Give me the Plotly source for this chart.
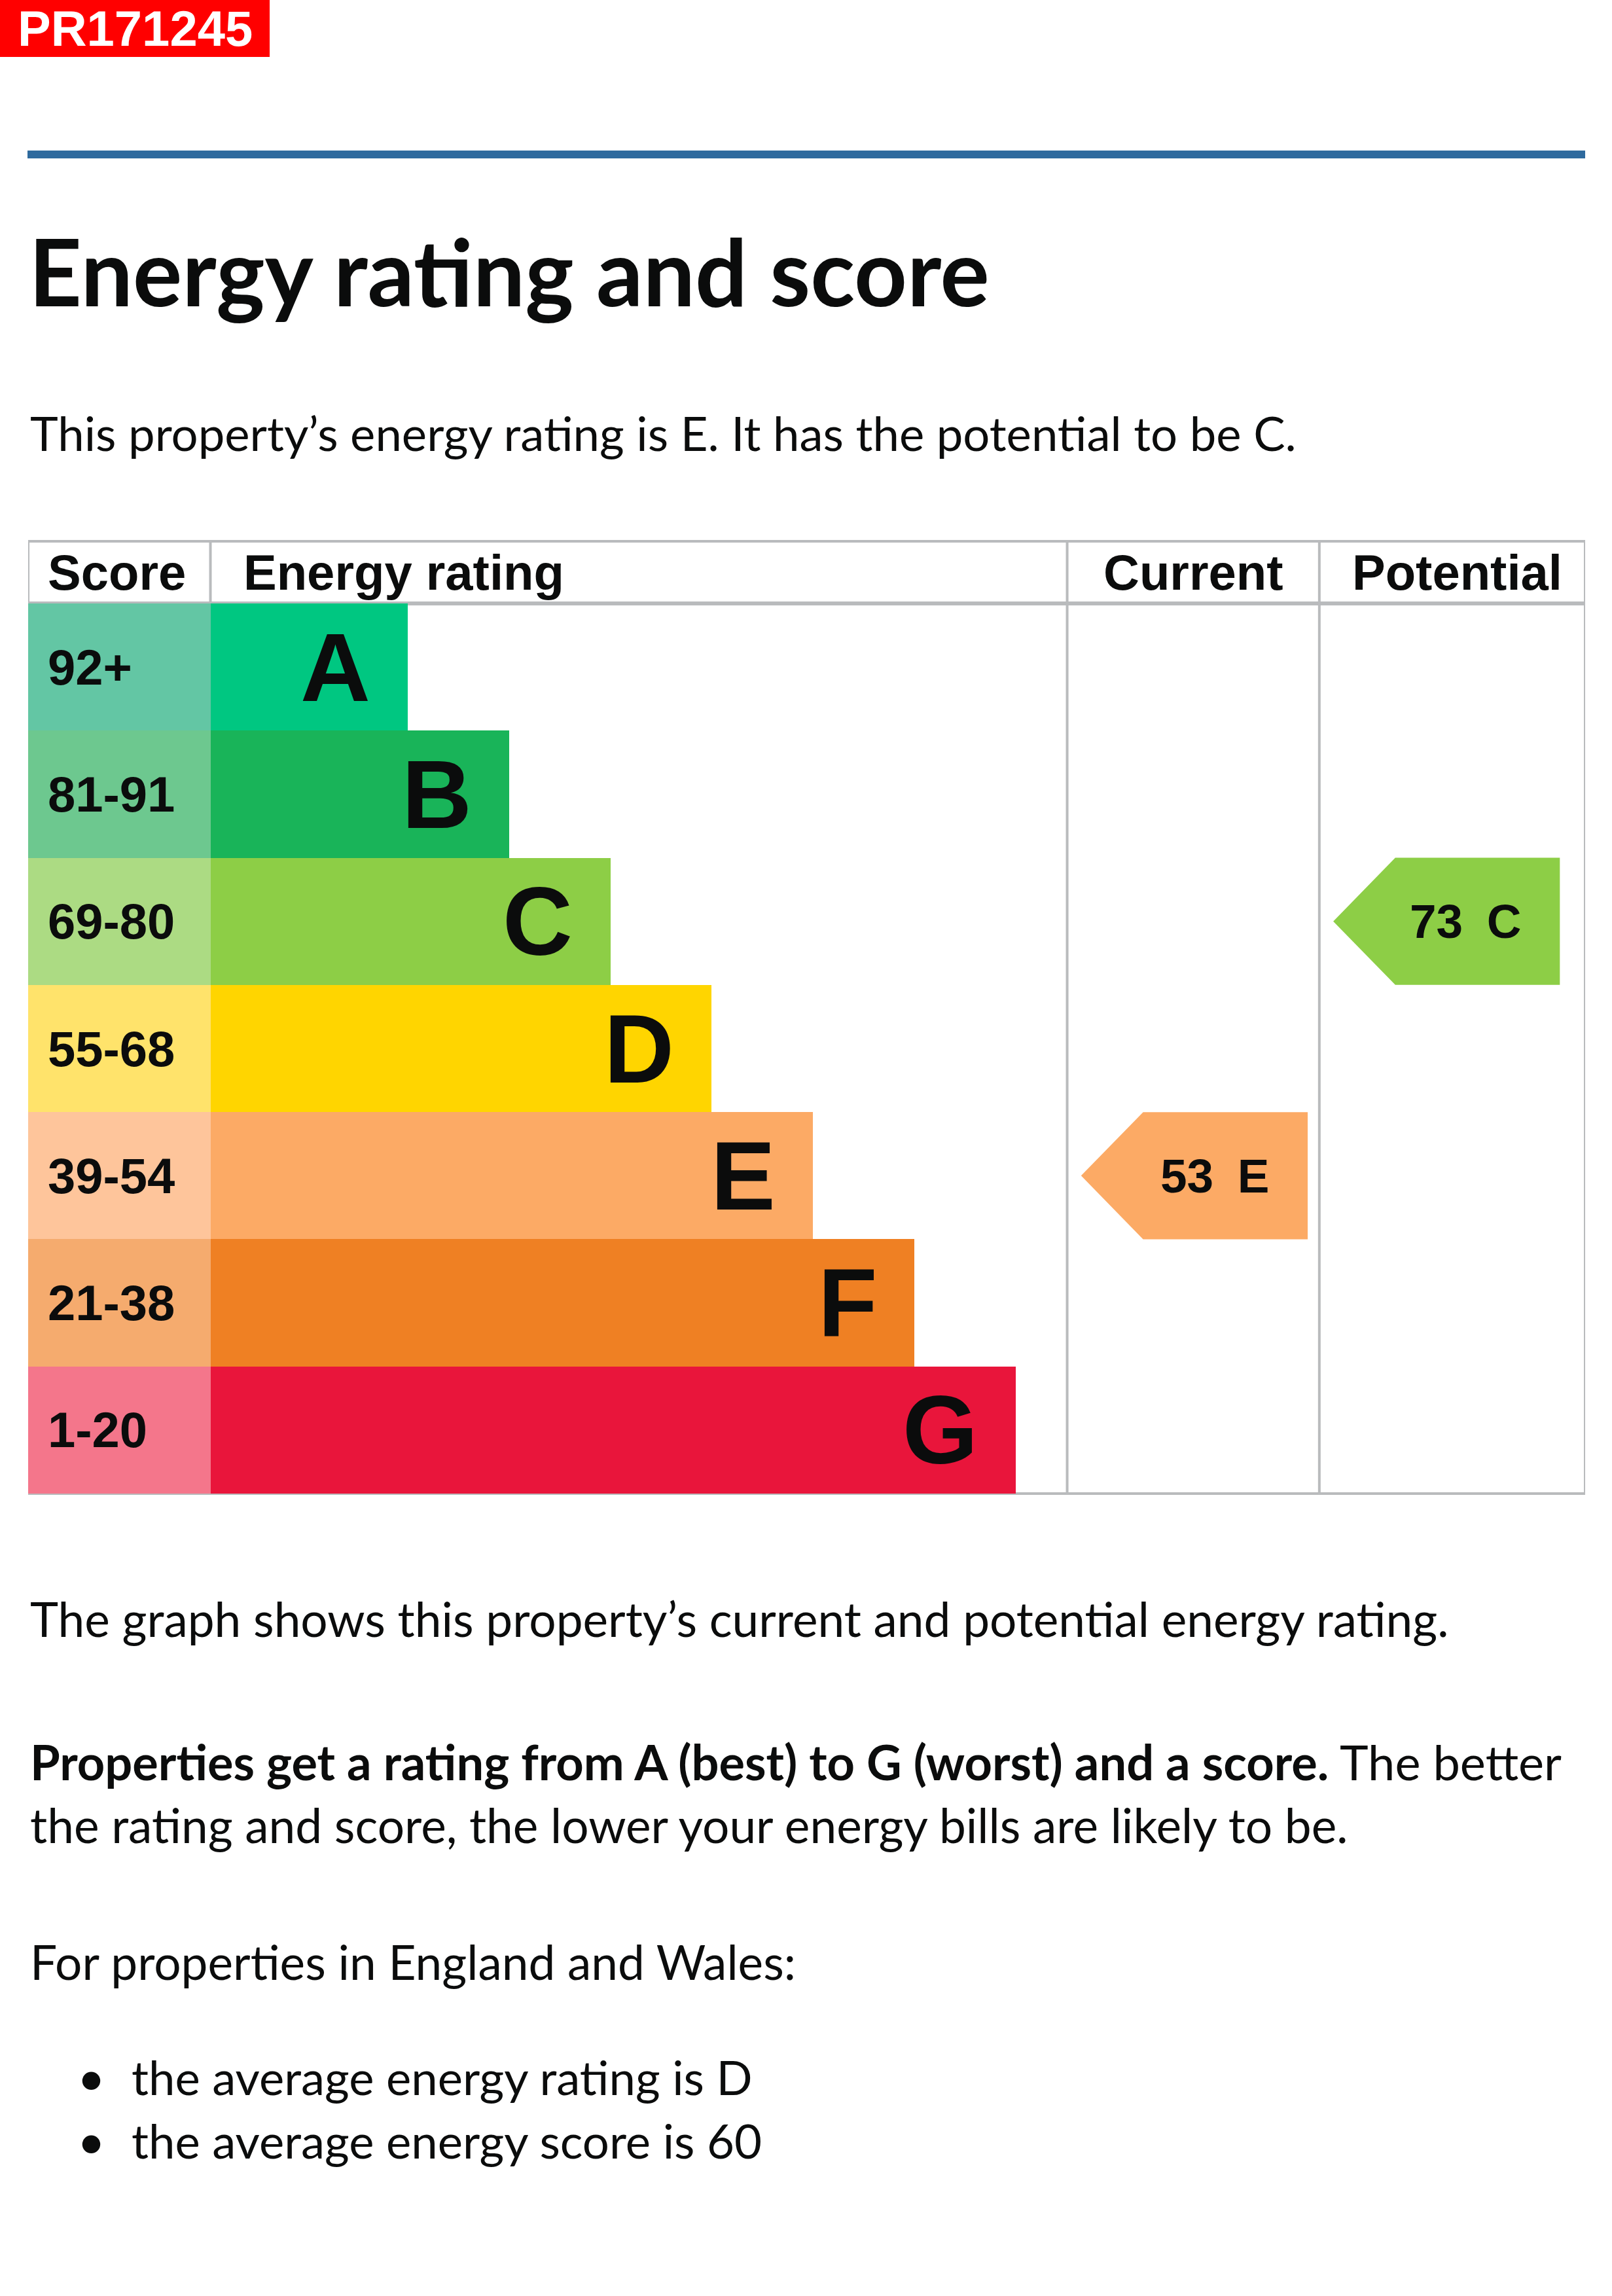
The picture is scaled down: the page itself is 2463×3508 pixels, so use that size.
import plotly.graph_objects as go

W, H = 2463, 3508

# ---- data ----
bands = ["A", "B", "C", "D", "E", "F", "G"]
score_ranges = ["92+", "81-91", "69-80", "55-68", "39-54", "21-38", "1-20"]
bar_widths = [78, 118, 158, 198, 238, 278, 318]   # length of each rating bar (graph units)
current_score, current_band = 53, "E"
potential_score, potential_band = 73, "C"
average_band, average_score = "D", 60
ref_code = "PR171245"

# ---- styles ----
band_colours = ["#00c781", "#19b459", "#8dce46", "#ffd500", "#fcaa65", "#ef8023", "#e9153b"]
score_colours = ["#63c6a4", "#6dc88f", "#acdb83", "#ffe36b", "#fec59b", "#f5ab6e", "#f4768b"]
TEXT = "#0b0c0c"
GRID = "#b9bbbd"
BODY_FONT = "Lato"
TABLE_FONT = "Liberation Sans"

# graph geometry (graph units, the svg of the EPC graph is 615 wide)
SCORE_COL = 72
CUR_COL = 410.4
POT_COL = 510
GRAPH_W = 615
# pixel positions of the table on the page
TBL_L, TBL_R = 43, 2422
TBL_TOP, HEAD_BOT, TBL_BOT = 827, 922, 2282


def py(p):
    return 1 - p / H


def pxx(p):
    return p / W


idx = list(range(len(bands)))
fig = go.Figure()

fig.add_trace(go.Bar(
    y=idx, x=[SCORE_COL] * len(bands), base=0, orientation="h", width=1,
    marker=dict(color=score_colours, line=dict(width=0)), hoverinfo="skip",
))
fig.add_trace(go.Bar(
    y=idx, x=bar_widths, base=SCORE_COL, orientation="h", width=1,
    marker=dict(color=band_colours, line=dict(width=0)), hoverinfo="skip",
))


def add_arrow(col_left, band, score):
    i = bands.index(band)
    tip, shoulder, right = col_left + 5.5, col_left + 30, col_left + 95
    fig.add_trace(go.Scatter(
        x=[tip, shoulder, right, right, shoulder, tip],
        y=[i, i - 0.5, i - 0.5, i + 0.5, i + 0.5, i],
        mode="lines", fill="toself", fillcolor=band_colours[i],
        line=dict(width=0, color=band_colours[i]), hoverinfo="skip",
    ))
    fig.add_annotation(
        x=right - 14.7, y=i, xref="x", yref="y", xanchor="right", yanchor="middle",
        text=f"{score}\u2002{band}", showarrow=False,
        font=dict(family=TABLE_FONT, size=73, color=TEXT, weight="bold"),
    )


add_arrow(CUR_COL, current_band, current_score)
add_arrow(POT_COL, potential_band, potential_score)

# score labels and band letters
for i, (b, s) in enumerate(zip(bands, score_ranges)):
    fig.add_annotation(
        x=7.3, y=i, xref="x", yref="y", xanchor="left", yanchor="middle",
        text=s, showarrow=False,
        font=dict(family=TABLE_FONT, size=76, color=TEXT, weight="bold"),
    )
    fig.add_annotation(
        x=SCORE_COL + bar_widths[i] - 14.3, y=i, xref="x", yref="y",
        xanchor="right", yanchor="middle", text=b, showarrow=False,
        font=dict(family=TABLE_FONT, size=148, color=TEXT, weight="bold"),
    )

# header
head_y = py((TBL_TOP + HEAD_BOT) / 2)
for txt, x, anchor in [("Score", 7.3, "left"), ("Energy rating", 84.6, "left"),
                       ("Current", (CUR_COL + POT_COL) / 2, "center"),
                       ("Potential", (POT_COL + GRAPH_W) / 2 + 2, "center")]:
    fig.add_annotation(
        x=x, y=head_y, xref="x", yref="paper", xanchor=anchor, yanchor="middle",
        text=txt, showarrow=False,
        font=dict(family=TABLE_FONT, size=76, color=TEXT, weight="bold"),
    )

# table lines
shapes = []


def hline(y, w):
    shapes.append(dict(type="line", xref="x", yref="paper", x0=0, x1=GRAPH_W,
                       y0=py(y), y1=py(y), line=dict(color=GRID, width=w), layer="below"))


def vline(x, y0, y1):
    shapes.append(dict(type="line", xref="x", yref="paper", x0=x, x1=x,
                       y0=py(y0), y1=py(y1), line=dict(color=GRID, width=4), layer="below"))


hline(TBL_TOP, 4)
hline(HEAD_BOT, 6)
hline(TBL_BOT, 4)
vline(0, TBL_TOP, TBL_BOT)
vline(SCORE_COL, TBL_TOP, HEAD_BOT)
vline(CUR_COL, TBL_TOP, TBL_BOT)
vline(POT_COL, TBL_TOP, TBL_BOT)
vline(GRAPH_W, TBL_TOP, TBL_BOT)

# page furniture: reference tag and blue rule
shapes.append(dict(type="rect", xref="paper", yref="paper", x0=0, x1=pxx(412),
                   y0=py(87), y1=py(0), fillcolor="#ff0000", line=dict(width=0)))
shapes.append(dict(type="line", xref="paper", yref="paper", x0=pxx(42), x1=pxx(2422),
                   y0=py(236), y1=py(236), line=dict(color="#2e6a9e", width=12)))
fig.add_annotation(
    x=pxx(206), y=py(44), xref="paper", yref="paper", xanchor="center", yanchor="middle",
    text=ref_code, showarrow=False,
    font=dict(family=TABLE_FONT, size=76, color="white", weight="bold"),
)

# page text
text_lines = [
    ("Energy rating and score", 413, 141, "bold", 42),
    (f"This property\u2019s energy rating is {current_band}. It has the potential to be {potential_band}.",
     660, 72.5, "normal", 44),
    ("The graph shows this property\u2019s current and potential energy rating.", 2473, 73, "normal", 44),
    (f"<b>Properties get a rating from {bands[0]} (best) to {bands[-1]} (worst) and a score.</b> The better",
     2691, 74, "normal", 44),
    ("the rating and score, the lower your energy bills are likely to be.", 2788, 73, "normal", 44),
    ("For properties in England and Wales:", 2997, 73, "normal", 44),
    (f"the average energy rating is {average_band}", 3172, 72.5, "normal", 199),
    (f"the average energy score is {average_score}", 3269, 72.5, "normal", 199),
]
for txt, y, size, weight, x in text_lines:
    fig.add_annotation(
        x=pxx(x), y=py(y), xref="paper", yref="paper", xanchor="left", yanchor="middle",
        text=txt, showarrow=False,
        font=dict(family=BODY_FONT, size=size, color=TEXT, weight=weight),
    )
for y in (3172, 3269):
    fig.add_annotation(
        x=pxx(139), y=py(y), xref="paper", yref="paper", xanchor="center", yanchor="middle",
        text="\u2022", showarrow=False, font=dict(family=BODY_FONT, size=74, color=TEXT),
    )

fig.update_layout(
    width=W, height=H, margin=dict(l=0, r=0, t=0, b=0),
    paper_bgcolor="white", plot_bgcolor="rgba(0,0,0,0)",
    showlegend=False, barmode="overlay", bargap=0,
    shapes=shapes,
    xaxis=dict(domain=[pxx(TBL_L), pxx(TBL_R)], range=[0, GRAPH_W], visible=False, fixedrange=True),
    yaxis=dict(domain=[py(TBL_BOT), py(HEAD_BOT)], range=[len(bands) - 0.5, -0.5],
               visible=False, fixedrange=True),
)

# the page body has a default 8px margin; drop it so the figure sits at the corner
fig.write_html("out.html", config={"displayModeBar": False},
               post_script="document.body.style.margin='0';")
